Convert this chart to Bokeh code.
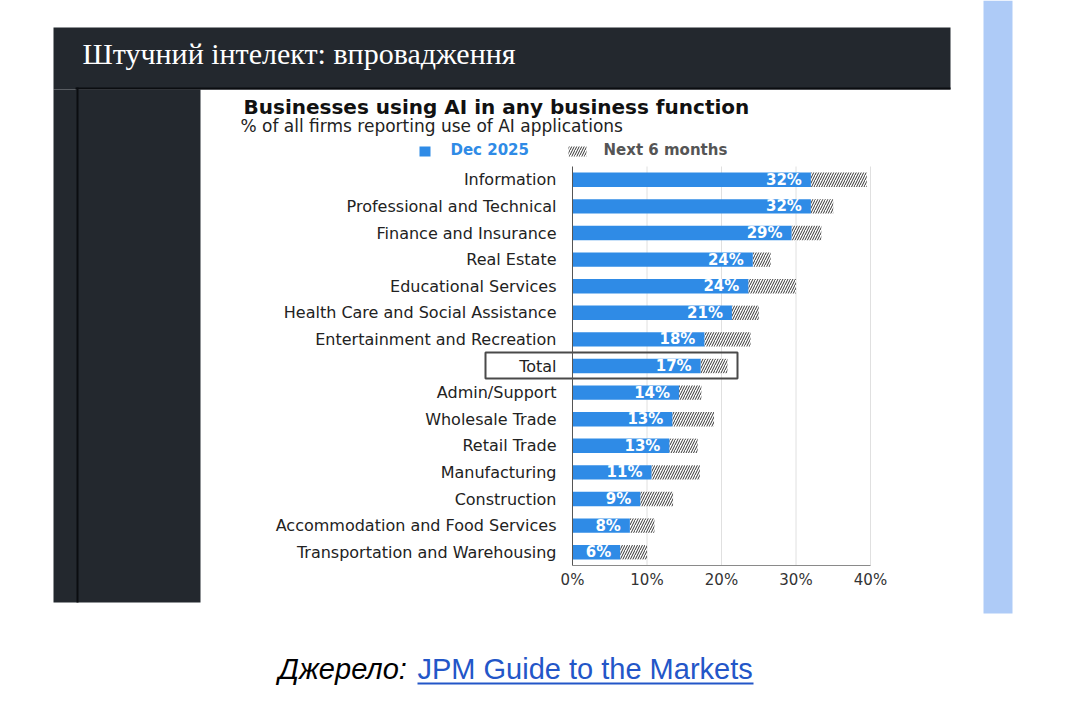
from bokeh.plotting import figure
from bokeh.models import (Range1d, Label, LinearAxis, FixedTicker,
                          PrintfTickFormatter, ColumnDataSource)
from bokeh.core.properties import value
from bokeh.embed import file_html
from bokeh.resources import INLINE

# ---------------- data ----------------
categories = ["Information", "Professional and Technical", "Finance and Insurance",
              "Real Estate", "Educational Services", "Health Care and Social Assistance",
              "Entertainment and Recreation", "Total", "Admin/Support", "Wholesale Trade",
              "Retail Trade", "Manufacturing", "Construction",
              "Accommodation and Food Services", "Transportation and Warehousing"]
dec_2025 = [32.0, 32.0, 29.4, 24.2, 23.6, 21.4, 17.7, 17.2, 14.3, 13.4, 13.0, 10.6, 9.1, 7.7, 6.4]
next_6_months = [39.5, 35.0, 33.4, 26.6, 30.0, 25.0, 23.9, 20.8, 17.3, 19.0, 16.8, 17.1, 13.5, 11.0, 10.0]
value_labels = ["32%", "32%", "29%", "24%", "24%", "21%", "18%", "17%", "14%", "13%",
                "13%", "11%", "9%", "8%", "6%"]
x_ticks = [0, 10, 20, 30, 40]

# ---------------- layout constants (page pixels) ----------------
W, H = 1082, 702
X0, X40 = 572, 870          # where 0% and 40% sit
CAT_TOP, CAT_BOT = 166, 565  # top / bottom of the category band
BLUE = "#2f8be6"
DARK = "#23282e"
HATCH = dict(hatch_pattern="/", hatch_color="#333333", hatch_weight=1, hatch_scale=5)

n = len(categories)
ypos = list(range(n))
k = (X40 - X0) / 40.0
band = (CAT_BOT - CAT_TOP) / n

p = figure(width=W, height=H, min_border=0,
           x_range=Range1d(0, W), y_range=Range1d(H, 0),
           x_axis_type=None, y_axis_type=None,
           output_backend="svg", toolbar_location=None)
p.background_fill_color = "white"
p.border_fill_color = "white"
p.outline_line_color = None
p.xgrid.visible = False
p.ygrid.visible = False
p.extra_x_ranges = {"pct": Range1d(start=-X0 / k, end=(W - X0) / k)}
p.extra_y_ranges = {"cat": Range1d(start=(H - CAT_TOP) / band - 0.5, end=-CAT_TOP / band - 0.5)}

# ---------------- slide decoration ----------------
p.quad(left=[53, 53, 75, 76, 983], right=[950, 200, 950, 78, 1012],
       top=[27, 89, 87, 87, 0], bottom=[89, 602, 89, 602, 613],
       fill_color=[DARK, DARK, "#0b0d10", "#0b0d10", "#aecbf7"], line_color=None)

src = ColumnDataSource(dict(y=ypos, now=dec_2025, nxt=next_6_months, lab=value_labels))

# vertical grid lines
p.segment(x0=x_ticks[1:], x1=x_ticks[1:], y0=-0.5, y1=n - 0.5, line_color="#e0e0e0",
          line_width=1, x_range_name="pct", y_range_name="cat")

# bars
p.hbar(y="y", left="now", right="nxt", height=0.54, source=src, fill_color="white",
       line_color=None, x_range_name="pct", y_range_name="cat", **HATCH)
p.hbar(y="y", left=0, right="now", height=0.54, source=src, fill_color=BLUE, line_color=None,
       x_range_name="pct", y_range_name="cat")
p.text(x="now", y="y", text="lab", source=src, x_offset=-9, text_align="right",
       text_baseline="middle", text_color="white", text_font=value("DejaVu Sans"),
       text_font_style="bold", text_font_size="15px", x_range_name="pct", y_range_name="cat")

# axes
xaxis = LinearAxis(x_range_name="pct", fixed_location=CAT_BOT, bounds=(0, 40),
                   ticker=FixedTicker(ticks=x_ticks), formatter=PrintfTickFormatter(format="%d%%"))
xaxis.axis_line_color = "#8a8a8a"
xaxis.major_tick_line_color = None
xaxis.minor_tick_line_color = None
xaxis.major_tick_out = 0
xaxis.major_tick_in = 0
xaxis.major_label_standoff = 5
xaxis.major_label_text_font = "DejaVu Sans"
xaxis.major_label_text_font_size = "15px"
xaxis.major_label_text_color = "#333333"
p.add_layout(xaxis, "below")

yaxis = LinearAxis(y_range_name="cat", fixed_location=X0, bounds=(-0.5, n - 0.5),
                   ticker=FixedTicker(ticks=ypos),
                   major_label_overrides={i: c for i, c in enumerate(categories)})
yaxis.axis_line_color = "#555555"
yaxis.major_tick_line_color = None
yaxis.minor_tick_line_color = None
yaxis.major_tick_out = 0
yaxis.major_tick_in = 0
yaxis.major_label_standoff = 16
yaxis.major_label_text_font = "DejaVu Sans"
yaxis.major_label_text_font_size = "16px"
yaxis.major_label_text_color = "#222222"
p.add_layout(yaxis, "left")

# highlight around Total
p.quad(left=[485], right=[737], top=[352], bottom=[378], fill_color=None,
       line_color="#4a4a4a", line_width=2)

# legend swatches
p.quad(left=[419], right=[430], top=[146], bottom=[156], fill_color=BLUE, line_color=None)
p.quad(left=[568], right=[586], top=[146], bottom=[156], fill_color="white",
       line_color=None, **HATCH)


def label(text, x, y, size, color, font="DejaVu Sans", style="normal"):
    # y is the wanted baseline; Bokeh's alphabetic baseline sits ~0.41 em lower
    p.add_layout(Label(x=x, y=y - 0.41 * size, text=text, text_font=font,
                       text_font_size=f"{size}px", text_font_style=style, text_color=color,
                       text_align="left", text_baseline="alphabetic"))


label("Штучний інтелект: впровадження", 82, 65, 30, "white", font="Liberation Serif")
label("Businesses using AI in any business function", 243, 115, 20, "#111111", style="bold")
label("% of all firms reporting use of AI applications", 240, 132, 17, "#222222")
label("Dec 2025", 450, 156, 15, BLUE, style="bold")
label("Next 6 months", 603, 156, 15, "#555555", style="bold")

label("Джерело:", 278, 680, 29, "black", font="Liberation Sans", style="italic")
label("JPM Guide to the Markets", 417, 680, 29, "#2356c8", font="Liberation Sans")
p.quad(left=[417], right=[753], top=[682], bottom=[684], fill_color="#2356c8", line_color=None)

open("out.html", "w").write(file_html(p, INLINE))
